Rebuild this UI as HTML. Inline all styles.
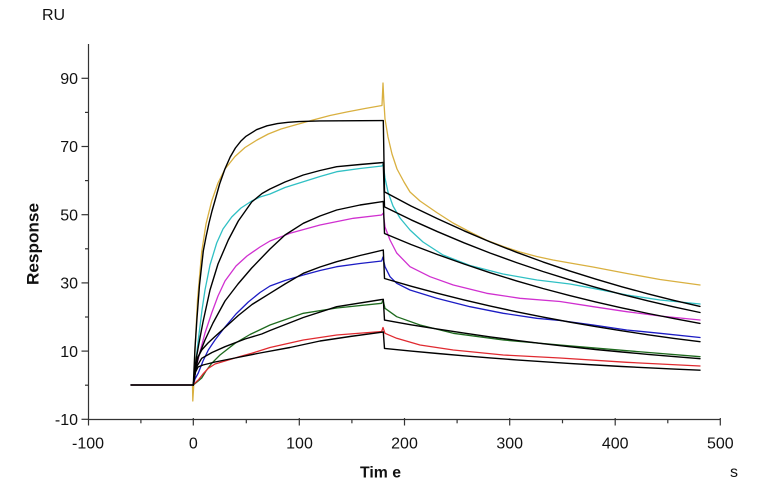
<!DOCTYPE html>
<html>
<head>
<meta charset="utf-8">
<style>
  html, body { margin: 0; padding: 0; background: #ffffff; }
  svg { display: block; }
  text { font-family: "Liberation Sans", Arial, sans-serif; fill: #111; }
</style>
</head>
<body>
<svg width="780" height="499" viewBox="0 0 780 499" xmlns="http://www.w3.org/2000/svg">
  <rect width="780" height="499" fill="#ffffff"/>

  <!-- Axes -->
  <g stroke="#333" stroke-width="1.2" fill="none">
    <line x1="88.5" y1="44" x2="88.5" y2="419.5"/>
    <line x1="88.5" y1="419.5" x2="720.5" y2="419.5"/>
    <line x1="81.5" y1="78.3" x2="88.5" y2="78.3"/>
    <line x1="81.5" y1="146.5" x2="88.5" y2="146.5"/>
    <line x1="81.5" y1="214.7" x2="88.5" y2="214.7"/>
    <line x1="81.5" y1="282.9" x2="88.5" y2="282.9"/>
    <line x1="81.5" y1="351.1" x2="88.5" y2="351.1"/>
    <line x1="81.5" y1="419.3" x2="88.5" y2="419.3"/>
    <line x1="85" y1="112.4" x2="88.5" y2="112.4"/>
    <line x1="85" y1="180.6" x2="88.5" y2="180.6"/>
    <line x1="85" y1="248.8" x2="88.5" y2="248.8"/>
    <line x1="85" y1="317" x2="88.5" y2="317"/>
    <line x1="85" y1="385.2" x2="88.5" y2="385.2"/>
    <line x1="88.5" y1="419.5" x2="88.5" y2="425.5"/>
    <line x1="193.3" y1="418" x2="193.3" y2="425.5"/>
    <line x1="299.3" y1="418" x2="299.3" y2="425.5"/>
    <line x1="404.5" y1="418" x2="404.5" y2="425.5"/>
    <line x1="509.7" y1="418" x2="509.7" y2="425.5"/>
    <line x1="615.2" y1="418" x2="615.2" y2="425.5"/>
    <line x1="720.3" y1="418" x2="720.3" y2="425.5"/>
    <line x1="140.9" y1="419.5" x2="140.9" y2="423.3"/>
    <line x1="246.3" y1="419.5" x2="246.3" y2="423.3"/>
    <line x1="351.9" y1="419.5" x2="351.9" y2="423.3"/>
    <line x1="457.1" y1="419.5" x2="457.1" y2="423.3"/>
    <line x1="562.5" y1="419.5" x2="562.5" y2="423.3"/>
    <line x1="667.8" y1="419.5" x2="667.8" y2="423.3"/>
  </g>

  <g font-size="16" text-anchor="end">
    <text x="78" y="84">90</text>
    <text x="78" y="152.2">70</text>
    <text x="78" y="220.4">50</text>
    <text x="78" y="288.6">30</text>
    <text x="78" y="356.8">10</text>
    <text x="78" y="425">-10</text>
  </g>
  <g font-size="16" text-anchor="middle">
    <text x="88" y="448.5">-100</text>
    <text x="193.3" y="448.5">0</text>
    <text x="299.5" y="448.5">100</text>
    <text x="404.5" y="448.5">200</text>
    <text x="509.7" y="448.5">300</text>
    <text x="615.2" y="448.5">400</text>
    <text x="720.3" y="448.5">500</text>
  </g>

  <text x="42" y="20" font-size="16">RU</text>
  <text x="360" y="477.5" font-size="16" font-weight="bold" textLength="41" lengthAdjust="spacingAndGlyphs">Tim e</text>
  <text x="730" y="477" font-size="16">s</text>
  <text transform="translate(38.5,244) rotate(-90)" font-size="17" font-weight="bold" text-anchor="middle" textLength="82" lengthAdjust="spacingAndGlyphs">Response</text>

  <!-- Data curves -->
  <g fill="none" stroke-width="1.3" stroke-linejoin="round" stroke-linecap="round">
    <path stroke="#d9b040" d="M131,385 L192.5,385 L192.8,401 L193.6,388 L195,350 L197.5,300 L201.7,252 L206,224 L211.7,201 L218,183 L225,169 L235,156.5 L245,147.5 L257,140 L268.3,134 L281,129 L295,125 L313,120 L330,115.5 L346.7,112 L365,108.5 L382,105.5 L383,83 L383.8,100 L385,119 L388,137 L392,154 L397,169 L404,182 L410,192 L420,201 L436.7,212.5 L453,223 L470,232 L486,240 L503.3,246.5 L520,252 L536.7,256.5 L553,260 L570,263 L593,267 L627,273.5 L660,279.5 L700,285"/>
    <path stroke="#30c0c4" d="M131,385 L193.3,385 L196,360 L198.3,340 L202,310 L205,290 L210,265 L216.7,243 L223,229 L231.7,217 L241,208 L251.7,201 L260,197 L270,194 L285,187.5 L303.3,181.7 L320,176.5 L336.7,171.7 L360,168.5 L382,166 L383.3,164 L384,170 L385,178 L388,192 L393,206 L400,218 L410,230 L423,242 L443,255 L470,265.5 L503,274 L537,280 L570,284 L593,288.3 L627,295 L660,300 L700,304"/>
    <path stroke="#d030d0" d="M131,385 L193.3,385 L196,368 L200,352 L205,333 L211.7,313 L218,296 L225,281 L236,266 L247,256 L260,247 L270,241 L290,233.3 L320,225 L353.3,218.3 L381.7,215 L383.3,213 L385,227 L390,240 L396.7,253 L410,266.7 L430,276.7 L453.3,285 L486.7,293.3 L520,298.3 L560,301.5 L593.3,306.7 L626.7,311.7 L660,316 L700,320"/>
    <path stroke="#1c1cc4" d="M131,385 L193.3,385 L195,379 L198.3,373 L203,361 L208.3,350 L215,340 L225,327 L236,314 L248.3,302 L260,292.5 L270,286 L285,280.5 L303.3,275 L320,270.5 L336.7,266.7 L360,263.5 L381.7,261 L383,257 L385,266.7 L390,276.7 L396.7,283.3 L410,290 L436.7,298.3 L470,306.7 L503.3,313.3 L536.7,318.3 L560,320.5 L593.3,325 L626.7,330 L660,333.3 L700,337.5"/>
    <path stroke="#1e6a1e" d="M131,385 L193.3,385 L197,382 L201.7,378 L206,371 L211.7,363.3 L220,355 L235,343.3 L250,334.5 L270,325 L303.3,313.3 L336.7,308 L381.7,303.3 L383,300 L385,308.3 L396.7,316.7 L420,325 L453.3,333.3 L503.3,340 L560,345 L626.7,350.7 L700,356.7"/>
    <path stroke="#e02a30" d="M131,385 L193.3,385 L196,382 L198.3,380 L203,374 L208.3,368.3 L215,364 L228.3,360 L240,356.5 L251.7,353.3 L270,347.5 L303.3,340 L336.7,335 L381.7,331.5 L383,327.5 L385,333.3 L396.7,338.3 L420,345 L453.3,350 L503.3,355 L560,358 L626.7,362.3 L700,366"/>
  </g>

  <!-- Fit curves (black) -->
  <g fill="none" stroke="#000" stroke-width="1.4" stroke-linejoin="round" stroke-linecap="round">
    <path d="M131,385 L193.3,385"/>
    <path d="M193.3,385 L195,348 L197,318 L199.5,285 L203.3,251 L206,237 L209,223 L212,211 L215,200.5 L219.6,184 L224.9,169 L230.2,157 L235.4,148 L240.7,141.3 L246,136.3 L256.5,129.7 L267,125.8 L277.5,123.6 L288.1,122.3 L298.6,121.6 L319.7,120.9 L383.3,120.6 L384.5,191.9 L411,206 L437.6,218.8 L464,230.8 L490.3,242 L516.6,252.3 L542.9,261.9 L569.2,270.8 L595.6,279.1 L621.9,286.8 L648.2,293.9 L674,300.4 L700,306.4"/>
    <path d="M193.3,385 L196,360 L199,343 L203,322 L210,290 L218,264 L228.3,240 L238.3,221 L251.7,202 L262,193.5 L270,189 L285,182 L303.3,175 L320,170.5 L336.7,166.7 L360,164.5 L383.3,162.5 L384.5,206.9 L411,219.8 L437.6,231.7 L464,242.8 L490.3,253.1 L516.6,262.6 L542.9,271.5 L569.2,279.7 L595.6,287.3 L621.9,294.4 L648.2,300.9 L674,306.9 L700,312.5"/>
    <path d="M193.3,385 L196,368 L198.3,357 L205,340 L213,323 L225,301 L238,284 L251.7,268 L270,249 L285,235 L303.3,223.3 L320,216 L336.7,210 L360,205 L383.3,201.5 L384.5,233.5 L411,244.5 L437.6,254.6 L464,264 L490.3,272.8 L516.6,280.9 L542.9,288.5 L569.2,295.4 L595.6,301.9 L621.9,307.9 L648.2,313.5 L674,318.6 L700,323.4"/>
    <path d="M193.3,385 L195,370 L197.5,358 L201.7,350 L208,343 L215,336.5 L225,327.5 L238.3,315.5 L252,304.5 L270,293.3 L285,284 L303.3,273.3 L320,267 L336.7,261.7 L360,255.5 L383.3,250 L384.5,278.5 L411,286.2 L437.6,293.3 L464,299.9 L490.3,306.1 L516.6,311.8 L542.9,317.1 L569.2,322 L595.6,326.6 L621.9,330.8 L648.2,334.8 L674,338.4 L700,341.7"/>
    <path d="M193.3,385 L195,372 L196.7,366.7 L201.7,358.3 L212,352.5 L225,346.7 L245,339 L261.7,334 L270,330.5 L303.3,317.5 L336.7,306.7 L383.3,299.3 L384.5,320.1 L411,324.8 L437.6,329.1 L464,333.1 L490.3,336.9 L516.6,340.4 L542.9,343.7 L569.2,346.7 L595.6,349.5 L621.9,352 L648.2,354.4 L674,356.6 L700,358.7"/>
    <path d="M193.3,385 L195.5,372 L198,367 L203,365 L215,362 L235,358 L260,353 L290,347.5 L320,341 L350,336.5 L383.3,332 L384.5,348.4 L411,351.1 L437.6,353.5 L464,355.8 L490.3,357.9 L516.6,359.9 L542.9,361.7 L569.2,363.4 L595.6,365 L621.9,366.5 L648.2,367.8 L674,369.1 L700,370.2"/>
  </g>
</svg>
</body>
</html>
